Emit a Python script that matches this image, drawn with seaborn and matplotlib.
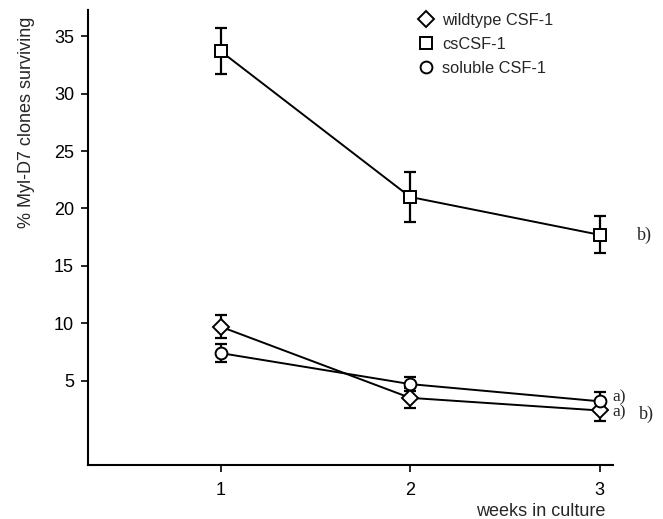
import pandas as pd
import matplotlib.pyplot as plt
import seaborn as sns

# values
weeks = [1, 2, 3]
wildtype = [9.7, 3.5, 2.4]
wildtype_err = [1.0, 0.9, 0.9]
cs = [33.7, 21.0, 17.7]
cs_err = [2.0, 2.2, 1.6]
soluble = [7.4, 4.7, 3.2]
soluble_err = [0.8, 0.6, 0.8]
series_names = ['wildtype CSF-1', 'csCSF-1', 'soluble CSF-1']
series_markers = ['D', 's', 'o']
yticks = [5, 10, 15, 20, 25, 30, 35]

df = pd.DataFrame({
    'week': weeks * 3,
    'value': wildtype + cs + soluble,
    'err': wildtype_err + cs_err + soluble_err,
    'series': [n for n in series_names for _ in weeks],
})

sns.set_style('ticks')
plt.rcParams['font.family'] = ['Liberation Sans', 'DejaVu Sans']

fig = plt.figure(figsize=(6.63, 5.19), dpi=100)
ax = fig.add_axes([0.1327, 0.104, 0.792, 0.877])

sizes = {'D': 8.5, 's': 8, 'o': 8.5}
for name, mk in zip(series_names, series_markers):
    sub = df[df['series'] == name]
    ax.errorbar(sub['week'], sub['value'], yerr=sub['err'], fmt='none',
                ecolor='black', elinewidth=1.6, capsize=4, capthick=1.6, zorder=2)
    sns.lineplot(data=sub, x='week', y='value', ax=ax, color='black', lw=1.4,
                 marker=mk, markersize=sizes[mk], markerfacecolor='white',
                 markeredgecolor='black', markeredgewidth=1.4, zorder=3,
                 label=name, errorbar=None)

ax.set_xlim(0.30, 3.07)
ax.set_ylim(-2.35, 37.3)
ax.set_xticks(weeks)
ax.set_yticks(yticks)
ax.tick_params(axis='both', direction='out', length=5, width=1.2, labelsize=13, colors='black')
ax.tick_params(axis='x', pad=7)
ax.tick_params(axis='y', pad=5)
for s in ['top', 'right']:
    ax.spines[s].set_visible(False)
for s in ['left', 'bottom']:
    ax.spines[s].set_linewidth(1.5)
    ax.spines[s].set_color('black')

ax.set_xlabel('weeks in culture', fontsize=13)
ax.xaxis.set_label_coords(0.985, -0.083)
ax.xaxis.label.set_ha('right')
ax.set_ylabel('% Myl-D7 clones surviving', fontsize=13)
ax.yaxis.set_label_coords(-0.101, 0.752)

leg = ax.legend(loc='upper left', bbox_to_anchor=(0.615, 1.008), frameon=False,
                fontsize=11.8, handlelength=1.0, handletextpad=0.5,
                labelspacing=0.55, borderaxespad=0)
for line in leg.get_lines():
    line.set_linestyle('none')

# significance marks next to the week-3 points
serif = ['Liberation Serif', 'DejaVu Serif']
ax.annotate('b)', (3, cs[2]), xytext=(37, 0), textcoords='offset pixels',
            fontsize=13, family=serif, va='center', ha='left')
ax.annotate('a)', (3, soluble[2]), xytext=(13, 4), textcoords='offset pixels',
            fontsize=12.5, family=serif, va='center', ha='left')
ax.annotate('a)', (3, wildtype[2]), xytext=(13, -2), textcoords='offset pixels',
            fontsize=12.5, family=serif, va='center', ha='left')
ax.annotate('b)', (3, wildtype[2]), xytext=(39, -4), textcoords='offset pixels',
            fontsize=13, family=serif, va='center', ha='left')

fig.savefig('out.png', dpi=100)
